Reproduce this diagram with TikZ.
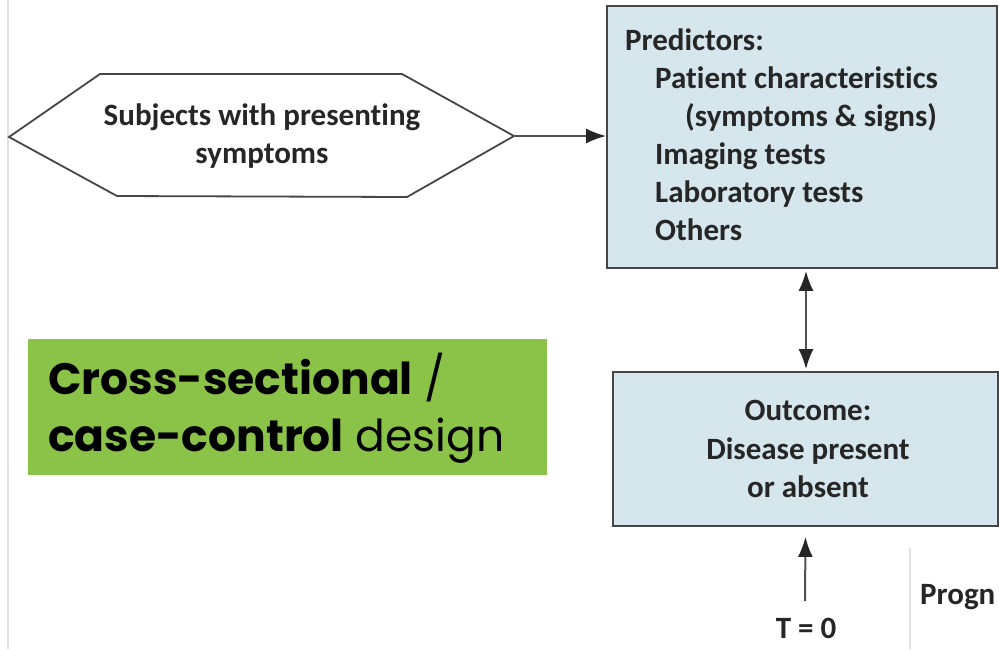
\documentclass[tikz,border=0pt]{standalone}
\usepackage{fontspec}
\setmainfont{Carlito}[Ligatures=NoCommon]
\newfontfamily\popfont{Poppins}
\usetikzlibrary{arrows.meta,positioning,calc}
\definecolor{boxfill}{RGB}{213,230,236}
\definecolor{boxline}{RGB}{70,70,70}
\definecolor{arrline}{RGB}{80,80,80}
\definecolor{txt}{RGB}{38,38,38}
\definecolor{greenbg}{RGB}{139,194,72}
\definecolor{faint}{RGB}{225,225,225}
\tikzset{
  bluebox/.style={draw=boxline, line width=1.8pt, fill=boxfill, inner sep=0pt},
  diagtext/.style={text=txt, font=\bfseries\fontsize{31}{38.5}\selectfont, inner sep=0pt},
  predline/.style={diagtext, anchor=base west},
  conn/.style={draw=arrline, line width=2pt, -{Latex[length=20pt,width=15pt,color=txt]}},
  dconn/.style={draw=arrline, line width=2pt, {Latex[length=20pt,width=15pt,color=txt]}-{Latex[length=20pt,width=15pt,color=txt]}},
  hexline/.style={draw=boxline, line width=1.8pt, line join=miter},
  faintline/.style={draw=faint, line width=1.5pt}
}
\begin{document}
\begin{tikzpicture}[x=1pt,y=-1pt]
\useasboundingbox (0,0) rectangle (999,649);
\fill[white] (0,0) rectangle (999,649);
% faint separators
\draw[faintline] (8,0) -- (8,649);
\draw[faintline] (910,548) -- (910,649);
% hexagon
\draw[hexline] (9,137) -- (100,74) -- (402,74) -- (514,136) -- (407,197) -- (117,196) -- cycle;
\coordinate (hexR) at (514,136);
\node[diagtext, align=center] (subj) at (262,136) {Subjects with presenting\\symptoms};
% predictors box
\node[bluebox, minimum width=390pt, minimum height=262pt] (pred) at (802,137) {};
\node[predline] (p1) at (625,50) {Predictors:};
\node[predline] (p2) at (655,88) {Patient characteristics};
\node[predline] (p3) at (685,126) {(symptoms \& signs)};
\node[predline] (p4) at (655,164) {Imaging tests};
\node[predline] (p5) at (655,202) {Laboratory tests};
\node[predline] (p6) at (655,240) {Others};
% outcome box
\node[bluebox, minimum width=385pt, minimum height=154pt] (out) at (805.5,449) {};
\node[diagtext, align=center] (outtxt) at (808,449) {Outcome:\\Disease present\\or absent};
% T = 0
\node[diagtext] (t0) at (806,628) {T = 0};
\coordinate (t0top) at (805,601);
% Progn
\node[diagtext, anchor=west] (prog) at (920,597) {Progn};
% green label
\node[fill=greenbg, minimum width=519pt, minimum height=136pt, inner sep=0pt] (green) at (287.5,407) {};
\node[anchor=west, align=left, inner sep=0pt, font=\popfont\fontsize{44}{57}\selectfont, text=black] (gtxt) at (48,408)
  {\textbf{Cross-sectional} /\\\textbf{case-control} design};
% connectors
\coordinate (pb) at ($(pred.south)+(4,2)$);
\coordinate (ot) at ($(out.north)+(0,-2)$);
\draw[conn] (hexR) -- (pred.west |- hexR);
\draw[dconn] (pb) -- (pb |- ot);
\draw[conn] (t0top) -- ($(out.south)+(0,10)$);
\end{tikzpicture}
\end{document}
